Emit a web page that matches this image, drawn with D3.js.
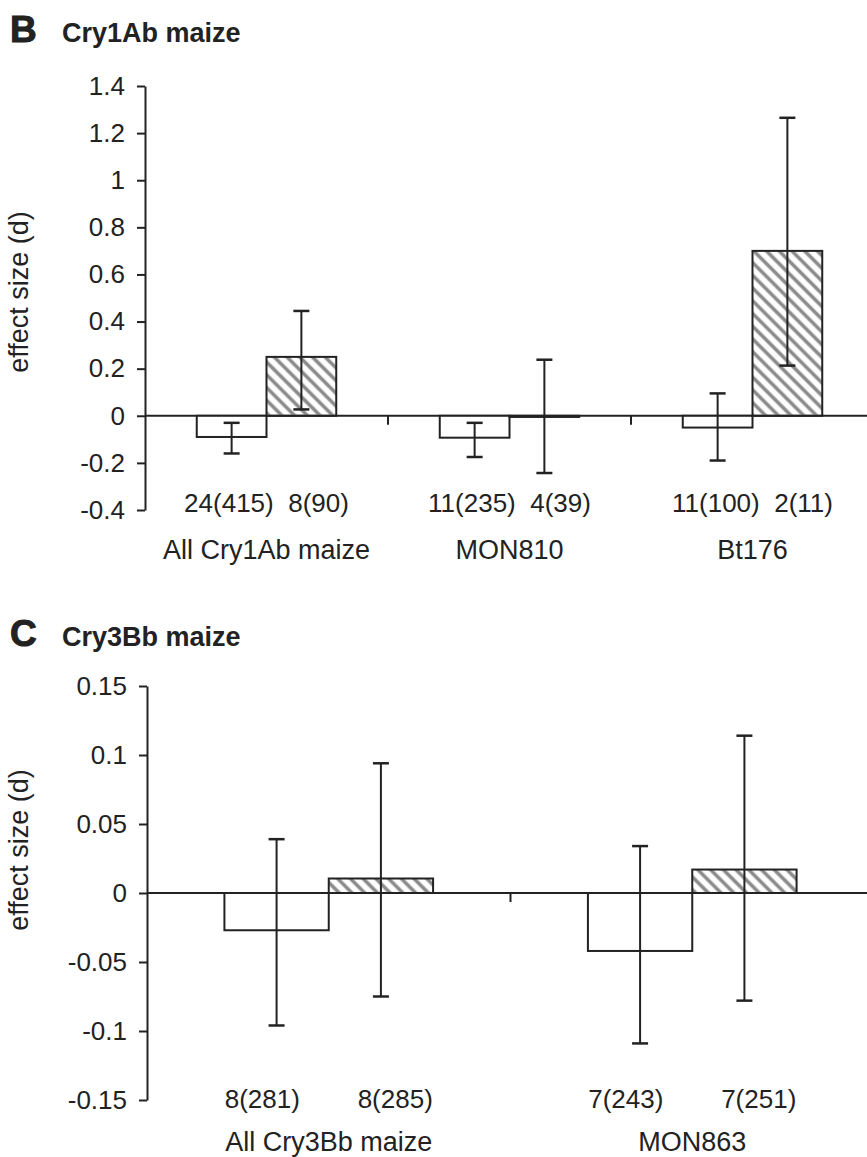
<!DOCTYPE html>
<meta charset="utf-8">
<script src="https://d3js.org/d3.v7.min.js"></script>
<style>
  body { margin: 0; background: #fff; }
  text { font-family: "Liberation Sans", Arial, sans-serif; fill: #222; }
</style>
<div id="chart"></div>
<script>

  // ---- panel B data (Cry1Ab maize)
  const catsB = ["All Cry1Ab maize", "MON810", "Bt176"];
  const nWhiteB = ["24(415)", "11(235)", "11(100)"];
  const nHatchB = ["8(90)", "4(39)", "2(11)"];
  const whiteB = [-0.09, -0.093, -0.05];
  const whiteLoB = [-0.16, -0.175, -0.19];
  const whiteHiB = [-0.03, -0.03, 0.095];
  const hatchB = [0.25, -0.005, 0.70];
  const hatchLoB = [0.027, -0.243, 0.213];
  const hatchHiB = [0.445, 0.238, 1.265];
  const ticksB = [1.4, 1.2, 1, 0.8, 0.6, 0.4, 0.2, 0, -0.2, -0.4];

  // ---- panel C data (Cry3Bb maize)
  const catsC = ["All Cry3Bb maize", "MON863"];
  const nWhiteC = ["8(281)", "7(243)"];
  const nHatchC = ["8(285)", "7(251)"];
  const whiteC = [-0.027, -0.042];
  const whiteLoC = [-0.096, -0.109];
  const whiteHiC = [0.039, 0.034];
  const hatchC = [0.0105, 0.017];
  const hatchLoC = [-0.075, -0.078];
  const hatchHiC = [0.094, 0.114];
  const ticksC = [0.15, 0.1, 0.05, 0, -0.05, -0.1, -0.15];

  var width = 867, height = 1157;

  var svg = d3.select("#chart").append("svg")
    .attr("width", width)
    .attr("height", height);

  // hatch pattern
  svg.append("defs").append("pattern")
      .attr("id", "hatch")
      .attr("patternUnits", "userSpaceOnUse")
      .attr("width", 9).attr("height", 9)
      .attr("patternTransform", "rotate(-45)")
    .append("line")
      .attr("x1", 4.5).attr("y1", 0).attr("x2", 4.5).attr("y2", 9)
      .attr("stroke", "#8c8c8c").attr("stroke-width", 3.6);

  function panel(o) {
    var g = svg.append("g");

    var y = d3.scaleLinear().domain(o.ydomain).range(o.yrange);
    var x0 = d3.scaleBand().domain(o.cats).range([o.left, 874]);
    var x1 = d3.scaleBand().domain(["white", "hatch"])
      .range([0, x0.bandwidth()]).paddingOuter(0.742);

    // titles
    g.append("text").attr("x", 10).attr("y", o.titleY)
      .attr("font-size", 37).attr("font-weight", "bold")
      .attr("stroke", "#222").attr("stroke-width", 1)
      .text(o.letter);
    g.append("text").attr("x", 62).attr("y", o.titleY)
      .attr("font-size", 27).attr("font-weight", "bold").text(o.title);

    // y axis
    var ax = g.append("g")
      .attr("transform", "translate(" + o.left + ",0)")
      .call(d3.axisLeft(y).tickValues(o.ticks).tickFormat(d => String(d))
        .tickSize(8).tickPadding(12).tickSizeOuter(0));
    ax.select(".domain").attr("stroke", "#222").attr("stroke-width", 2);
    ax.selectAll(".tick line").attr("stroke", "#222").attr("stroke-width", 2);
    ax.selectAll(".tick text").attr("font-size", 26)
      .attr("font-family", "Liberation Sans, Arial, sans-serif").attr("fill", "#222");

    g.append("text")
      .attr("transform", "translate(28," + o.labelY + ") rotate(-90)")
      .attr("text-anchor", "middle").attr("font-size", 27)
      .text("effect size (d)");

    // zero line and category ticks
    g.append("line")
      .attr("x1", o.left).attr("x2", width)
      .attr("y1", y(0)).attr("y2", y(0))
      .attr("stroke", "#222").attr("stroke-width", 2);
    g.selectAll(".ctick").data(o.cats.slice(1)).join("line")
      .attr("x1", d => x0(d)).attr("x2", d => x0(d))
      .attr("y1", y(0)).attr("y2", y(0) + 9)
      .attr("stroke", "#222").attr("stroke-width", 2);

    var rows = o.cats.map((c, i) => ({cat: c, i: i}));

    // bars
    var bars = [];
    rows.forEach(r => {
      bars.push({cat: r.cat, k: "white", v: o.white[r.i], lo: o.whiteLo[r.i], hi: o.whiteHi[r.i]});
      bars.push({cat: r.cat, k: "hatch", v: o.hatch[r.i], lo: o.hatchLo[r.i], hi: o.hatchHi[r.i]});
    });

    g.selectAll(".bar").data(bars).join("rect")
      .attr("x", d => x0(d.cat) + x1(d.k))
      .attr("width", x1.bandwidth())
      .attr("y", d => y(Math.max(0, d.v)))
      .attr("height", d => Math.abs(y(d.v) - y(0)))
      .attr("fill", d => d.k == "hatch" ? "url(#hatch)" : "#fff")
      .attr("stroke", "#222").attr("stroke-width", 2);

    // error bars
    var cx = d => x0(d.cat) + x1(d.k) + x1.bandwidth() / 2;
    g.selectAll(".err").data(bars).join("line")
      .attr("x1", cx).attr("x2", cx)
      .attr("y1", d => y(d.lo)).attr("y2", d => y(d.hi))
      .attr("stroke", "#222").attr("stroke-width", 2);
    ["lo", "hi"].forEach(e => {
      g.selectAll(".cap" + e).data(bars).join("line")
        .attr("x1", d => cx(d) - 8).attr("x2", d => cx(d) + 8)
        .attr("y1", d => y(d[e])).attr("y2", d => y(d[e]))
        .attr("stroke", "#222").attr("stroke-width", 2.5);
    });

    // category labels (sample sizes on first line)
    g.selectAll(".nlab").data(rows).join("text")
      .attr("x", d => x0(d.cat) + x0.bandwidth() / 2)
      .attr("y", o.countY)
      .attr("text-anchor", "middle").attr("font-size", 26)
      .style("white-space", "pre")
      .text(d => o.nWhite[d.i] + o.gap + o.nHatch[d.i]);
    g.selectAll(".clab").data(rows).join("text")
      .attr("x", d => x0(d.cat) + x0.bandwidth() / 2)
      .attr("y", o.nameY)
      .attr("text-anchor", "middle").attr("font-size", 27)
      .text(d => d.cat);
  }

  panel({
    letter: "B", title: "Cry1Ab maize", titleY: 42,
    cats: catsB, nWhite: nWhiteB, nHatch: nHatchB, gap: "  ",
    white: whiteB, whiteLo: whiteLoB, whiteHi: whiteHiB,
    hatch: hatchB, hatchLo: hatchLoB, hatchHi: hatchHiB,
    ticks: ticksB, ydomain: [-0.4, 1.4], yrange: [510, 86],
    left: 145, labelY: 292, countY: 512, nameY: 559
  });

  panel({
    letter: "C", title: "Cry3Bb maize", titleY: 646,
    cats: catsC, nWhite: nWhiteC, nHatch: nHatchC, gap: "        ",
    white: whiteC, whiteLo: whiteLoC, whiteHi: whiteHiC,
    hatch: hatchC, hatchLo: hatchLoC, hatchHi: hatchHiC,
    ticks: ticksC, ydomain: [-0.15, 0.15], yrange: [1100, 686],
    left: 147, labelY: 850, countY: 1108, nameY: 1151
  });

</script>
